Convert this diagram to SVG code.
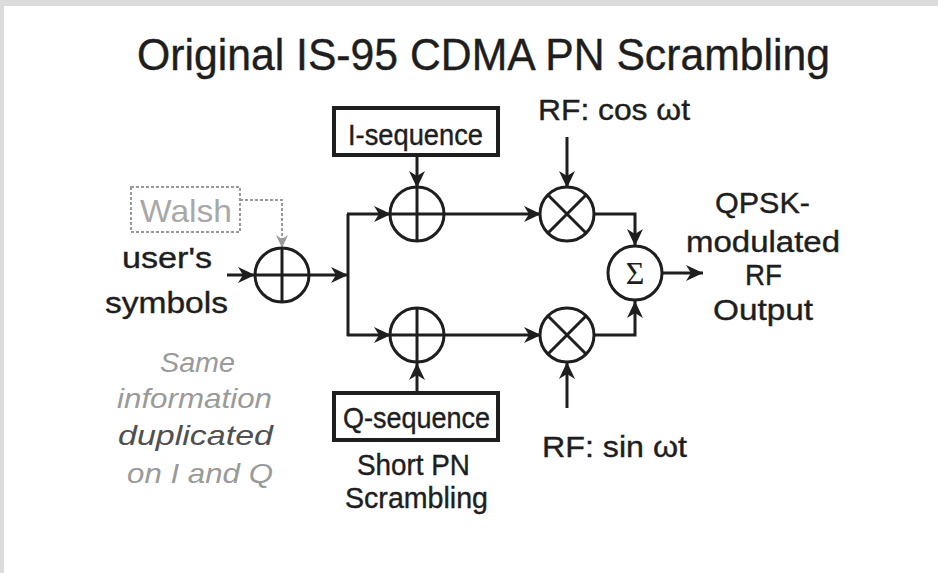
<svg xmlns="http://www.w3.org/2000/svg" width="938" height="573" viewBox="0 0 938 573">
<style>
text{font-family:"Liberation Sans",Arial,sans-serif;fill:#1e1e1e}
.t30{font-size:30px;stroke:#1e1e1e;stroke-width:0.4}
.t28{font-size:29px;stroke:#1e1e1e;stroke-width:0.4}
.ital{font-style:italic;font-size:28px}
.node{fill:none;stroke:#1e1e1e;stroke-width:3}
.box{fill:none;stroke:#1e1e1e;stroke-width:4}
.wire{fill:none;stroke:#1e1e1e;stroke-width:3}
.dash{fill:none;stroke:#9a9a9a;stroke-width:2;stroke-dasharray:3 2}
</style>
<defs>
<marker id="arr" markerUnits="userSpaceOnUse" markerWidth="18" markerHeight="16" refX="17" refY="8" orient="auto">
<path d="M0,0 L17,8 L0,16 L5,8 Z" fill="#1e1e1e"/>
</marker>
<marker id="arrg" markerUnits="userSpaceOnUse" markerWidth="14" markerHeight="12" refX="13" refY="6" orient="auto">
<path d="M0,0 L13,6 L0,12 L4,6 Z" fill="#9a9a9a"/>
</marker>
</defs>
<rect x="0" y="0" width="938" height="573" fill="#ffffff"/>
<rect x="0" y="0" width="938" height="6" fill="#dcdcdc"/>
<rect x="0" y="0" width="4" height="573" fill="#dcdcdc"/>

<text x="137" y="70" font-size="44" textLength="693" lengthAdjust="spacingAndGlyphs" style="stroke:#1e1e1e;stroke-width:0.4">Original IS-95 CDMA PN Scrambling</text>

<g id="connectors">
<line class="wire" x1="227" y1="275" x2="255" y2="275" marker-end="url(#arr)"/>
<polyline class="dash" points="240,200 282,200 282,248" marker-end="url(#arrg)"/>
<line class="wire" x1="309" y1="275" x2="348" y2="275" marker-end="url(#arr)"/>
<line class="wire" x1="348" y1="214" x2="348" y2="336"/>
<line class="wire" x1="347" y1="214" x2="391" y2="214" marker-end="url(#arr)"/>
<line class="wire" x1="347" y1="335" x2="391" y2="335" marker-end="url(#arr)"/>
<line class="wire" x1="417" y1="155" x2="417" y2="188" marker-end="url(#arr)"/>
<line class="wire" x1="417" y1="392" x2="417" y2="363" marker-end="url(#arr)"/>
<line class="wire" x1="444" y1="214" x2="541" y2="214" marker-end="url(#arr)"/>
<line class="wire" x1="444" y1="335" x2="541" y2="335" marker-end="url(#arr)"/>
<line class="wire" x1="567" y1="137" x2="567" y2="188" marker-end="url(#arr)"/>
<line class="wire" x1="567" y1="408" x2="567" y2="362" marker-end="url(#arr)"/>
<polyline class="wire" points="594,214 635,214 635,246" marker-end="url(#arr)"/>
<polyline class="wire" points="594,335 635,335 635,301" marker-end="url(#arr)"/>
<line class="wire" x1="662" y1="273" x2="703" y2="273" marker-end="url(#arr)"/>
</g>

<g id="walsh">
<rect class="dash" x="131" y="187" width="109" height="45"/>
<text x="140" y="222" font-size="32" textLength="92" lengthAdjust="spacingAndGlyphs" style="fill:#a8a8a8">Walsh</text>
</g>

<g id="input-label">
<text class="t30" x="122" y="268" textLength="90" lengthAdjust="spacingAndGlyphs">user's</text>
<text class="t30" x="105" y="313" textLength="123" lengthAdjust="spacingAndGlyphs">symbols</text>
</g>

<g id="xor-walsh">
<circle class="node" cx="282" cy="275" r="27"/>
<line class="node" x1="255" y1="275" x2="309" y2="275"/>
<line class="node" x1="282" y1="248" x2="282" y2="302"/>
</g>

<g id="i-sequence">
<rect class="box" x="334" y="108" width="164" height="47"/>
<text class="t28" x="348" y="145" textLength="135" lengthAdjust="spacingAndGlyphs">I-sequence</text>
</g>

<g id="xor-i">
<circle class="node" cx="417" cy="214" r="27"/>
<line class="node" x1="390" y1="214" x2="444" y2="214"/>
<line class="node" x1="417" y1="187" x2="417" y2="241"/>
</g>

<g id="xor-q">
<circle class="node" cx="417" cy="335" r="27"/>
<line class="node" x1="390" y1="335" x2="444" y2="335"/>
<line class="node" x1="417" y1="308" x2="417" y2="362"/>
</g>

<g id="q-sequence">
<rect class="box" x="334" y="393" width="164" height="47"/>
<text class="t28" x="343" y="428" textLength="147" lengthAdjust="spacingAndGlyphs">Q-sequence</text>
<text class="t28" x="357" y="475" textLength="113" lengthAdjust="spacingAndGlyphs">Short PN</text>
<text class="t28" x="345" y="508" textLength="143" lengthAdjust="spacingAndGlyphs">Scrambling</text>
</g>

<g id="note">
<text class="ital" x="160" y="372" textLength="75" lengthAdjust="spacingAndGlyphs" style="fill:#9a9a9a">Same</text>
<text class="ital" x="117" y="408" textLength="155" lengthAdjust="spacingAndGlyphs" style="fill:#9a9a9a">information</text>
<text class="ital" x="118" y="445" textLength="155" lengthAdjust="spacingAndGlyphs" style="fill:#505050">duplicated</text>
<text class="ital" x="127" y="483" textLength="146" lengthAdjust="spacingAndGlyphs" style="fill:#9a9a9a">on I and Q</text>
</g>

<g id="mult-cos">
<circle class="node" cx="567" cy="214" r="27"/>
<line class="node" x1="548" y1="195" x2="586" y2="233"/>
<line class="node" x1="586" y1="195" x2="548" y2="233"/>
<text class="t30" x="538" y="120" textLength="152" lengthAdjust="spacingAndGlyphs">RF: cos ωt</text>
</g>

<g id="mult-sin">
<circle class="node" cx="567" cy="335" r="27"/>
<line class="node" x1="548" y1="316" x2="586" y2="354"/>
<line class="node" x1="586" y1="316" x2="548" y2="354"/>
<text class="t30" x="542" y="457" textLength="145" lengthAdjust="spacingAndGlyphs">RF: sin ωt</text>
</g>

<g id="sum">
<circle class="node" cx="635" cy="273" r="27"/>
<text x="635" y="284" font-size="32" text-anchor="middle" style="font-family:'Liberation Serif',serif">Σ</text>
</g>

<g id="output">
<text class="t30" x="715" y="213" textLength="95" lengthAdjust="spacingAndGlyphs">QPSK-</text>
<text class="t30" x="686" y="252" textLength="154" lengthAdjust="spacingAndGlyphs">modulated</text>
<text class="t30" x="745" y="285" textLength="37" lengthAdjust="spacingAndGlyphs">RF</text>
<text class="t30" x="713" y="320" textLength="100" lengthAdjust="spacingAndGlyphs">Output</text>
</g>
</svg>
